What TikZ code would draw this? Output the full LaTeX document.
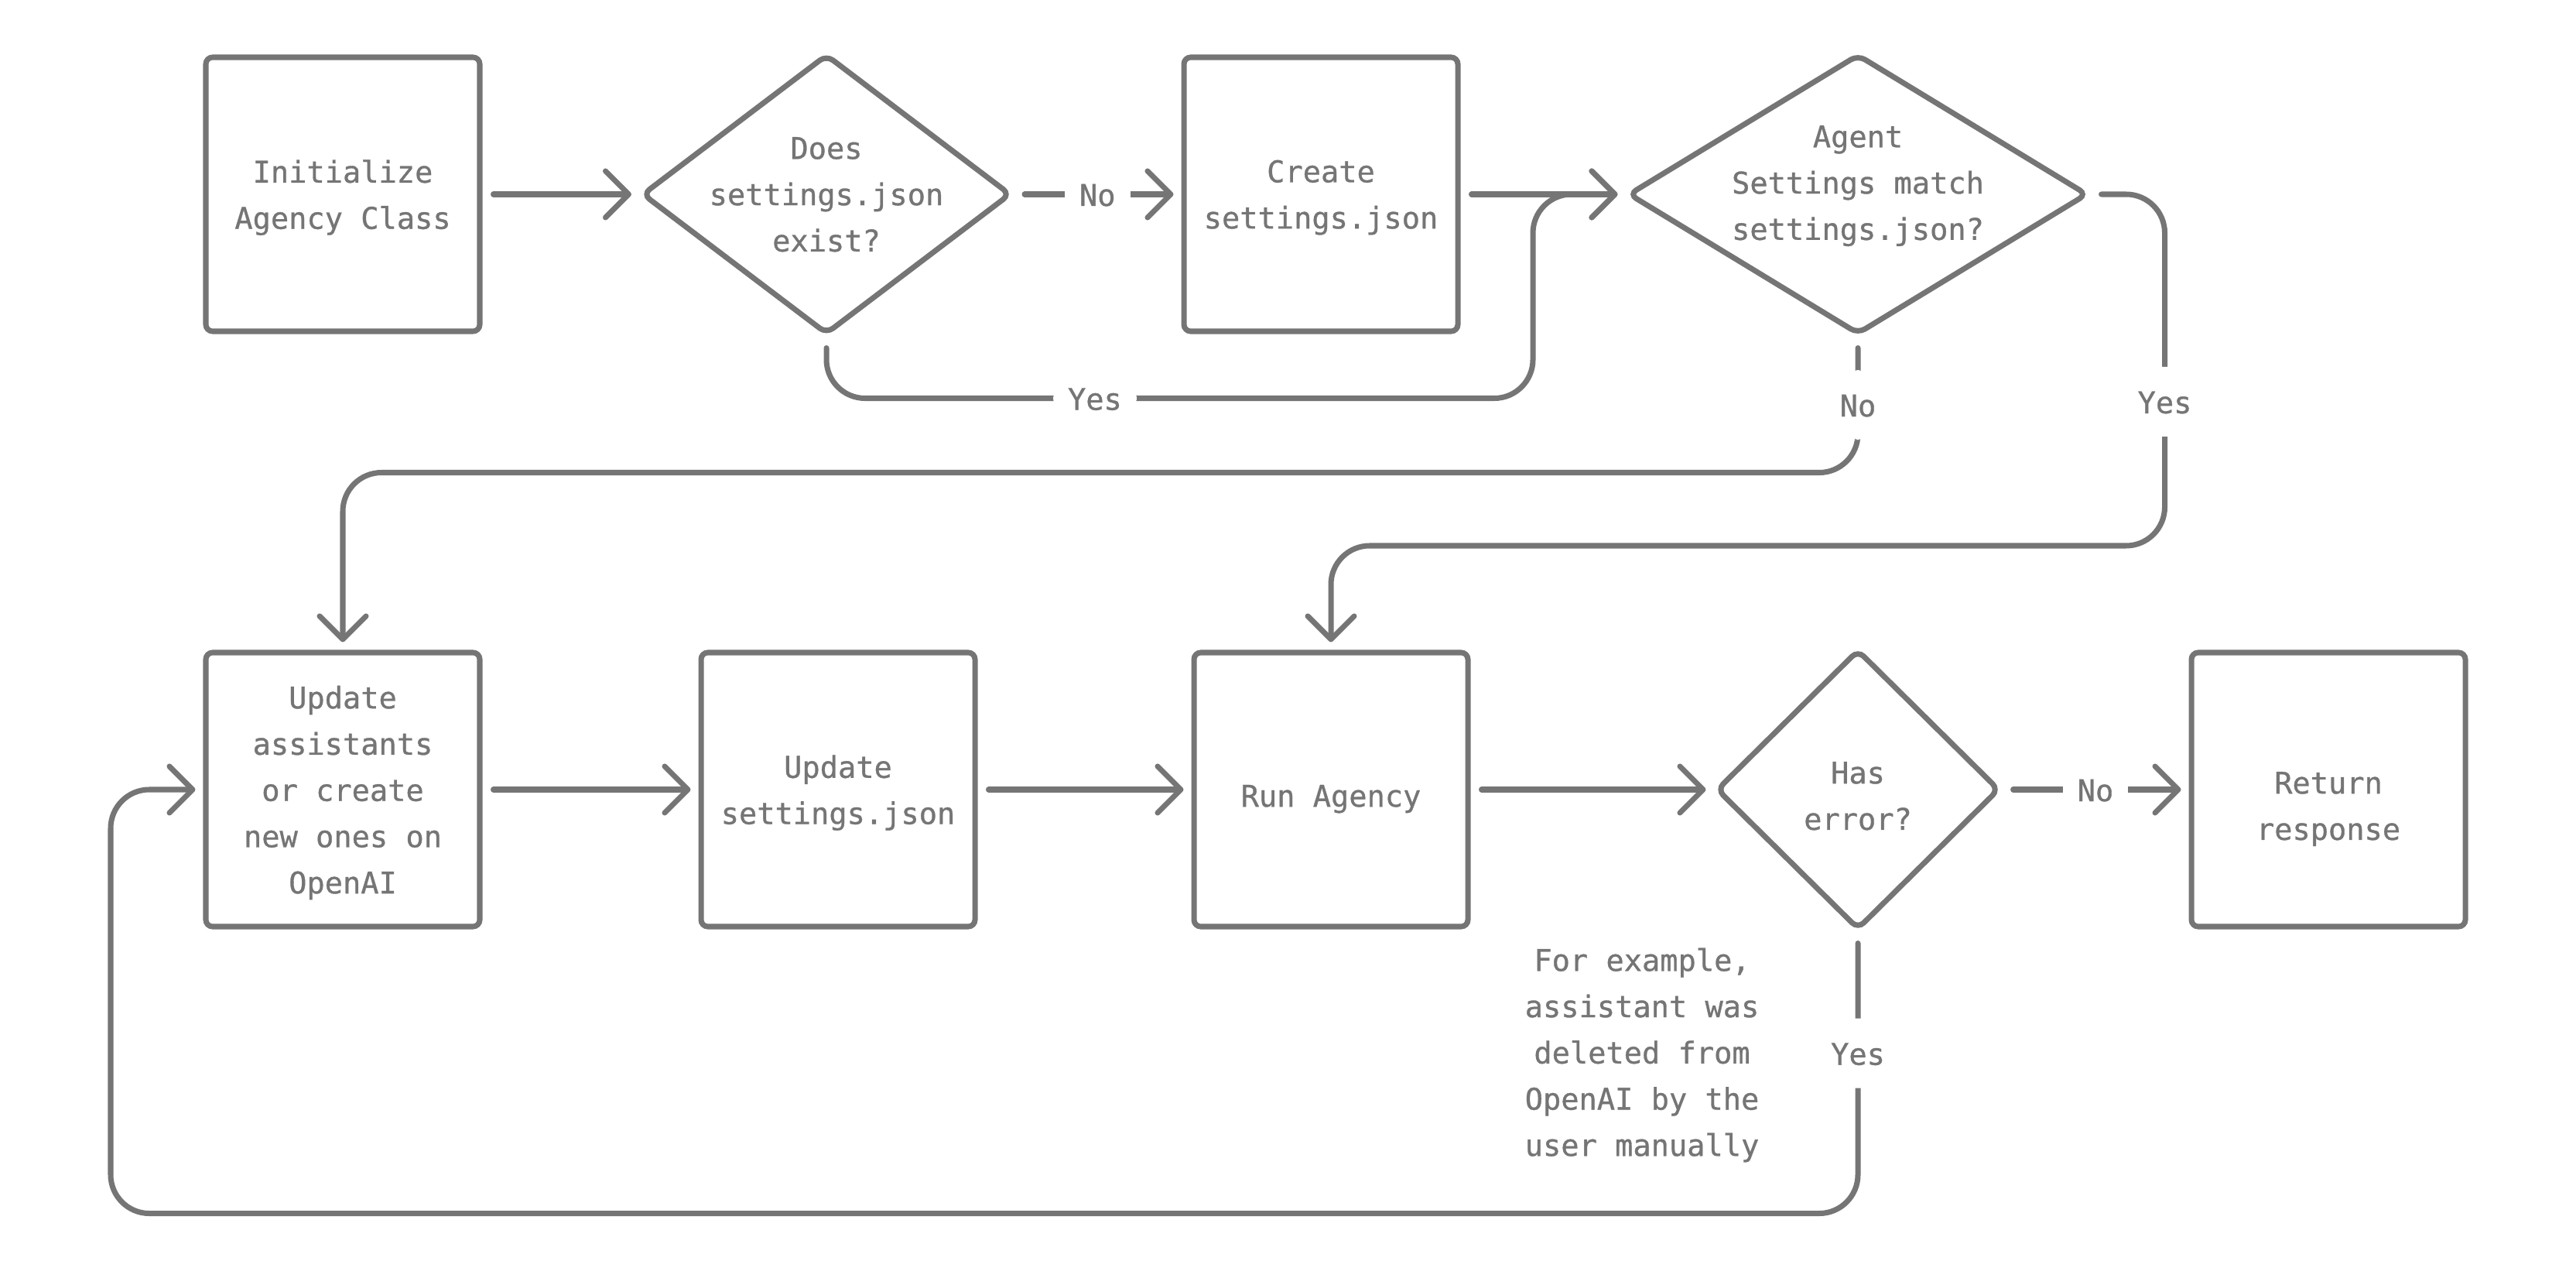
\documentclass[tikz,border=0pt]{standalone}
\usepackage{fontspec}
\newfontfamily\dvm[BoldFont={DejaVu Sans Mono}, BoldFeatures={FakeBold=0.8}]{DejaVu Sans Mono}
\usepackage{tikz}
\usetikzlibrary{arrows.meta,shapes.geometric}
\definecolor{ln}{HTML}{757575}

\begin{document}
\begin{tikzpicture}[scale=1,
            line width=2pt,
            every node/.style={font=\dvm\bfseries\fontsize{11}{17}\selectfont, text=ln, text depth=0pt},
            box/.style={draw=ln, rectangle, rounded corners=2.5pt, minimum width=3.54cm, minimum height=3.54cm, align=center},
            dec/.style={draw=ln, diamond, rounded corners=3pt, inner sep=0pt, minimum height=3.62cm},
            txt/.style={align=center},
            flow/.style={draw=ln, line cap=round, shorten <=0.14cm, shorten >=0.1cm, -{Straight Barb[length=0.3cm,width=0.6cm,round]}},
            link/.style={flow, rounded corners=0.5cm},
            lbl/.style={fill=white, inner xsep=0.19cm, inner ysep=0.3cm, text height=0.3cm, text depth=0cm}]
            \useasboundingbox (0,0) rectangle (33.29,-16.29);
            % first row
            \node[box] (init) at (4.43,-2.51) {Initialize\\Agency Class};
            \node[dec, minimum width=4.77cm, label={[txt]center:{Does\\settings.json\\exist?}}] (does) at (10.68,-2.51) {};
            \node[box] (create) at (17.07,-2.51) {Create\\settings.json};
            \node[dec, minimum width=5.94cm, label={[txt,yshift=0.15cm]center:{Agent\\Settings match\\settings.json?}}] (agent) at (24.01,-2.51) {};
            % second row
            \node[box] (upd) at (4.43,-10.20) {Update\\assistants\\or create\\new ones on\\OpenAI};
            \node[box] (updset) at (10.83,-10.20) {Update\\settings.json};
            \node[box, label={[txt,yshift=-0.08cm]center:Run Agency}] (run) at (17.20,-10.20) {};
            \node[dec, minimum width=3.66cm, label={[txt,yshift=-0.08cm]center:{Has\\error?}}] (err) at (24.01,-10.20) {};
            \node[box, label={[txt,yshift=-0.21cm]center:{Return\\response}}] (ret) at (30.09,-10.20) {};
            \node[txt] (note) at (21.22,-13.59) {For example,\\assistant was\\deleted from\\OpenAI by the\\user manually};
            % connectors
            \draw[flow] (init) -- (does);
            \draw[flow] (does) -- node[lbl]{No} (create);
            \draw[flow] (create) -- (agent);
            \draw[link] (does.south) -- ++(0,-0.79) -- node[lbl,pos=0.38]{Yes} ++(9.13,0) |- (agent.west);
            \draw[link] (agent.south) -- node[lbl]{No} ++(0,-1.75) -| (upd.north);
            \draw[link] (agent.east) -- ++(0.96,0) -- node[lbl,pos=0.59]{Yes} ++(0,-4.54) -| (run.north);
            \draw[flow] (upd) -- (updset);
            \draw[flow] (updset) -- (run);
            \draw[flow] (run) -- (err);
            \draw[flow] (err) -- node[lbl]{No} (ret);
            \draw[link] (err.south) -- node[lbl,pos=0.43]{Yes} ++(0,-3.63) -- ++(-22.58,0) |- (upd.west);
            \end{tikzpicture}
\end{document}
